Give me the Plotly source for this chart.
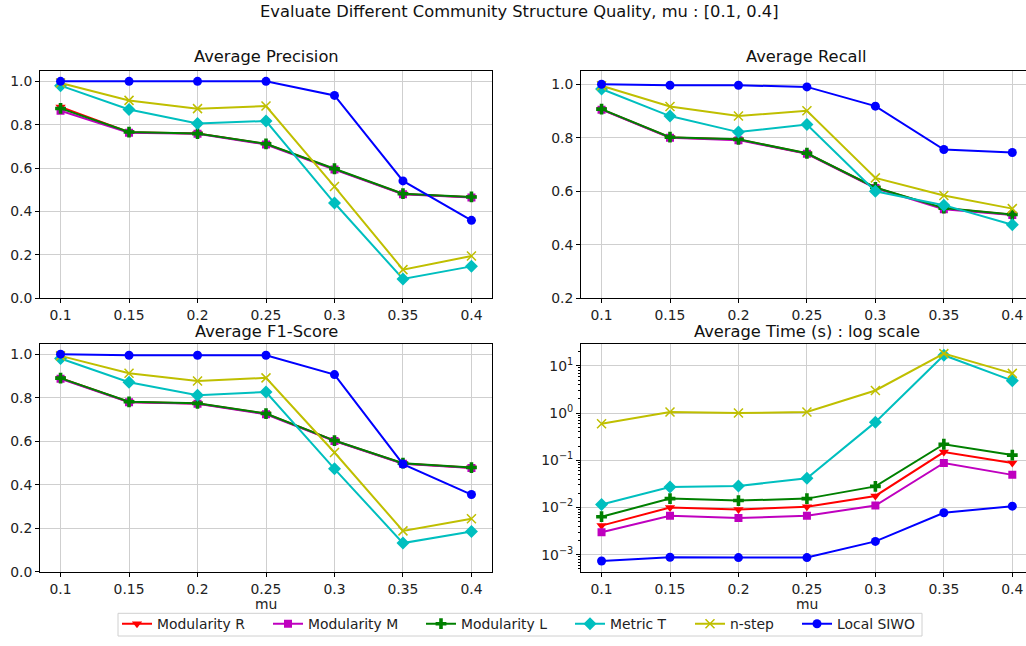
import plotly.graph_objects as go

W, H = 1026, 646

mu_labels = ["0.1", "0.15", "0.2", "0.25", "0.3", "0.35", "0.4"]

# Average precision per method
precision_r = [0.882, 0.765, 0.760, 0.711, 0.595, 0.481, 0.466]
precision_m = [0.864, 0.763, 0.758, 0.709, 0.593, 0.479, 0.465]
precision_l = [0.875, 0.766, 0.759, 0.712, 0.597, 0.482, 0.467]
precision_t = [0.980, 0.870, 0.806, 0.817, 0.439, 0.089, 0.147]
precision_n = [0.992, 0.912, 0.874, 0.886, 0.515, 0.132, 0.195]
precision_s = [1.000, 1.000, 1.000, 1.000, 0.935, 0.541, 0.359]

# Average recall per method
recall_r = [0.906, 0.801, 0.793, 0.741, 0.613, 0.536, 0.512]
recall_m = [0.905, 0.800, 0.791, 0.740, 0.612, 0.533, 0.511]
recall_l = [0.907, 0.802, 0.794, 0.742, 0.614, 0.537, 0.513]
recall_t = [0.982, 0.881, 0.821, 0.849, 0.600, 0.548, 0.475]
recall_n = [0.994, 0.917, 0.881, 0.901, 0.650, 0.584, 0.535]
recall_s = [1.000, 0.996, 0.996, 0.990, 0.918, 0.756, 0.745]

# Average F1-score per method
f1_r = [0.889, 0.780, 0.773, 0.726, 0.602, 0.498, 0.478]
f1_m = [0.887, 0.779, 0.772, 0.724, 0.601, 0.497, 0.477]
f1_l = [0.890, 0.781, 0.774, 0.727, 0.603, 0.499, 0.479]
f1_t = [0.980, 0.871, 0.811, 0.826, 0.473, 0.132, 0.185]
f1_n = [0.992, 0.912, 0.877, 0.891, 0.548, 0.188, 0.244]
f1_s = [1.000, 0.995, 0.995, 0.995, 0.906, 0.495, 0.355]

# Average running time (seconds) per method
time_r = [0.00413, 0.00998, 0.00905, 0.0103, 0.01754, 0.1486, 0.0873]
time_m = [0.00299, 0.00668, 0.00597, 0.00668, 0.0110, 0.0873, 0.0490]
time_l = [0.00637, 0.0154, 0.0140, 0.0154, 0.0279, 0.218, 0.1285]
time_t = [0.01153, 0.0270, 0.0284, 0.0417, 0.641, 16.7, 4.85]
time_n = [0.59, 1.05, 1.00, 1.05, 3.0, 18.1, 6.9]
time_s = [0.000736, 0.000883, 0.000869, 0.000869, 0.00191, 0.00773, 0.01064]

method_names = ["Modularity R", "Modularity M", "Modularity L", "Metric T", "n-step", "Local SIWO"]

styles = [
    dict(color="#ff0000", symbol="triangle-down", size=9),
    dict(color="#bf00bf", symbol="square", size=8),
    dict(color="#008000", symbol="cross", size=9),
    dict(color="#00bfbf", symbol="diamond", size=10),
    dict(color="#bfbf00", symbol="x-thin", size=9),
    dict(color="#0000ff", symbol="circle", size=9),
]

# left edge (px) of each legend entry's line handle
legend_handle_px = [122, 273, 426, 575, 695, 802]

panels = [
    ("x", "y", [precision_r, precision_m, precision_l, precision_t, precision_n, precision_s]),
    ("x2", "y2", [recall_r, recall_m, recall_l, recall_t, recall_n, recall_s]),
    ("x3", "y3", [f1_r, f1_m, f1_l, f1_t, f1_n, f1_s]),
    ("x4", "y4", [time_r, time_m, time_l, time_t, time_n, time_s]),
]


def px_x(v):
    return v / W


def px_y(v):
    return 1 - v / H


legend_keys = ["legend"] + ["legend%d" % (i + 2) for i in range(len(method_names) - 1)]

fig = go.Figure()
for pi, (xa, ya, series) in enumerate(panels):
    for mi, (name, vals, st) in enumerate(zip(method_names, series, styles)):
        marker = dict(color=st["color"], symbol=st["symbol"], size=st["size"])
        if st["symbol"] == "x-thin":
            marker["line"] = dict(color=st["color"], width=1.5)
        else:
            marker["line"] = dict(width=0)
        fig.add_trace(go.Scatter(
            x=mu_labels, y=vals, name=name, mode="lines+markers",
            line=dict(color=st["color"], width=2), marker=marker,
            xaxis=xa, yaxis=ya, showlegend=(pi == 0), legendgroup=name,
            legend=legend_keys[mi],
        ))

left_dom = [px_x(40), px_x(492)]
right_dom = [px_x(581), 1.0]
top_dom = [px_y(302), px_y(72)]
bot_dom = [px_y(579), px_y(348)]

grid = "#cfcfcf"
tick_font = dict(family="DejaVu Sans", size=13.9, color="#222222")

common_x = dict(type="category", showgrid=True, gridcolor=grid, gridwidth=1,
                showline=True, linecolor="black", linewidth=1, mirror=True,
                ticks="outside", ticklen=4, tickcolor="black", tickfont=tick_font,
                zeroline=False, fixedrange=True)
common_y = dict(showgrid=True, gridcolor=grid, gridwidth=1,
                showline=True, linecolor="black", linewidth=1,
                ticks="outside", ticklen=4, tickcolor="black", tickfont=tick_font,
                zeroline=False, fixedrange=True)

fig.update_layout(
    xaxis=dict(common_x, domain=left_dom, range=[-0.3, 6.3], anchor="y"),
    xaxis2=dict(common_x, domain=right_dom, range=[-0.3, 6.2], anchor="y2"),
    xaxis3=dict(common_x, domain=left_dom, range=[-0.3, 6.3], anchor="y3"),
    xaxis4=dict(common_x, domain=right_dom, range=[-0.3, 6.2], anchor="y4"),
    yaxis=dict(common_y, domain=top_dom, range=[0, 1.047], dtick=0.2,
               tickformat=".1f", mirror=True, anchor="x"),
    yaxis2=dict(common_y, domain=top_dom, range=[0.2, 1.049], dtick=0.2,
                tickformat=".1f", mirror=False, anchor="x2"),
    yaxis3=dict(common_y, domain=bot_dom, range=[0, 1.048], dtick=0.2,
                tickformat=".1f", mirror=True, anchor="x3"),
    yaxis4=dict(common_y, domain=bot_dom, type="log", range=[-3.363, 1.468],
                mirror=False, anchor="x4",
                tickmode="array",
                tickvals=[1e-3, 1e-2, 1e-1, 1, 10],
                ticktext=["10<sup>\u22123</sup>", "10<sup>\u22122</sup>",
                          "10<sup>\u22121</sup>", "10<sup>0</sup>", "10<sup>1</sup>"],
                minor=dict(ticks="outside", ticklen=2, tickcolor="black", showgrid=False,
                           tickmode="array",
                           tickvals=[m * 10.0 ** e for e in range(-4, 2) for m in range(2, 10)])),
)

title_font = dict(family="DejaVu Sans", size=16.3, color="#111111")
annotations = [
    dict(text="Evaluate Different Community Structure Quality, mu : [0.1, 0.4]",
         x=px_x(519), y=px_y(12)),
    dict(text="Average Precision", x=px_x(266), y=px_y(57)),
    dict(text="Average Recall", x=px_x(806.5), y=px_y(57)),
    dict(text="Average F1-Score", x=px_x(266), y=px_y(336)),
    dict(text="Average Time (s) : log scale", x=px_x(806.5), y=px_y(336)),
]
for a in annotations:
    fig.add_annotation(xref="paper", yref="paper", showarrow=False,
                       xanchor="center", yanchor="middle", font=title_font, **a)
for xc in (266, 806.5):
    fig.add_annotation(text="mu", xref="paper", yref="paper", x=px_x(xc), y=px_y(612),
                       showarrow=False, xanchor="center", yanchor="middle",
                       font=dict(family="DejaVu Sans", size=13.9, color="#222222"))

# legend frame
fig.add_shape(type="rect", xref="paper", yref="paper",
              x0=px_x(118), x1=px_x(922), y0=px_y(644), y1=px_y(621),
              line=dict(color="#d0d0d0", width=1), fillcolor="white", layer="below")

legend_font = dict(family="DejaVu Sans", size=13.9, color="#222222")
legend_layouts = {}
for key, hx in zip(legend_keys, legend_handle_px):
    legend_layouts[key] = dict(orientation="h", x=px_x(hx - 5), xanchor="left",
                               y=px_y(632), yanchor="middle",
                               bgcolor="rgba(0,0,0,0)", borderwidth=0,
                               font=legend_font, itemwidth=30)

fig.update_layout(
    width=W, height=H,
    margin=dict(l=0, r=0, t=0, b=0),
    paper_bgcolor="white", plot_bgcolor="white",
    font=dict(family="DejaVu Sans", size=12, color="#222222"),
    showlegend=True,
    **legend_layouts,
)

fig.write_html("out.html", config={"displayModeBar": False})
